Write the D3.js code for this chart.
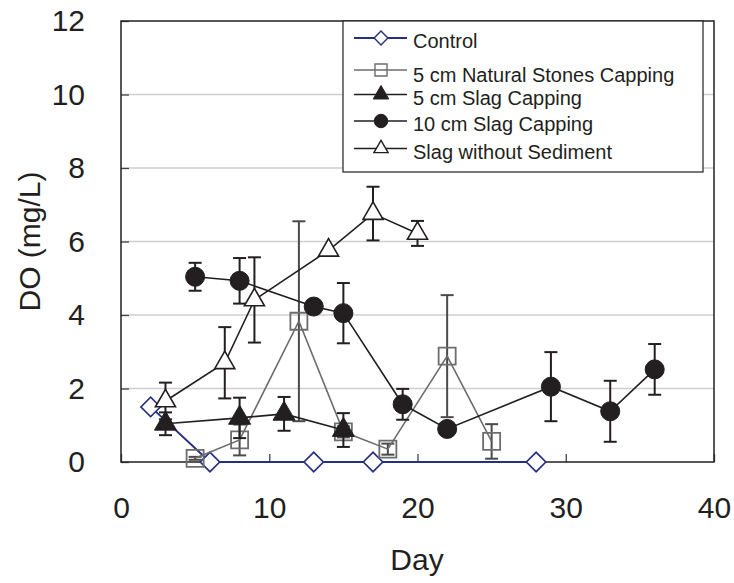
<!DOCTYPE html>
<html>
<head>
<meta charset="utf-8">
<script src="https://cdn.jsdelivr.net/npm/d3@7/dist/d3.min.js"></script>
<style>
  html, body { margin: 0; padding: 0; background: #fff; }
  svg { display: block; font-family: "Liberation Sans", Arial, sans-serif; }
</style>
</head>
<body>
<svg id="chart" width="734" height="583"></svg>
<script>
// Dissolved oxygen over time for each capping treatment
const controlDays = [2, 6, 13, 17, 28];
const controlDO   = [1.5, 0, 0, 0, 0];

const stoneDays = [5, 8, 12, 15, 18, 22, 25];
const stoneDO   = [0.1, 0.6, 3.83, 0.82, 0.35, 2.88, 0.56];
const stoneErr  = [0.04, 0.42, 2.72, 0.15, 0.15, 1.66, 0.47];

const slag5Days = [3, 8, 11, 15];
const slag5DO   = [1.04, 1.2, 1.31, 0.87];
const slag5Err  = [0.31, 0.55, 0.46, 0.46];

const slag10Days = [5, 8, 13, 15, 19, 22, 29, 33, 36];
const slag10DO   = [5.04, 4.93, 4.23, 4.05, 1.57, 0.9, 2.05, 1.38, 2.52];
const slag10Err  = [0.38, 0.62, 0, 0.82, 0.42, 0, 0.94, 0.83, 0.69];

const noSedDays = [3, 7, 9, 14, 17, 20];
const noSedDO   = [1.66, 2.7, 4.41, 5.76, 6.76, 6.22];
const noSedErr  = [0.5, 0.97, 1.16, 0, 0.73, 0.34];

const xTicks = [0, 10, 20, 30, 40];
const yTicks = [0, 2, 4, 6, 8, 10, 12];

const legendLabels = [
  "Control",
  "5 cm Natural Stones Capping",
  "5 cm Slag Capping",
  "10 cm Slag Capping",
  "Slag without Sediment"
];

const svg = d3.select("#chart");
const plot = { left: 121, right: 714, top: 21, bottom: 462 };

const x = d3.scaleLinear().domain([0, 40]).range([plot.left, plot.right]);
const y = d3.scaleLinear().domain([0, 12]).range([plot.bottom, plot.top]);

// horizontal grid
svg.append("g")
  .selectAll("line")
  .data(yTicks.filter(t => t > 0 && t < 12))
  .join("line")
  .attr("x1", plot.left).attr("x2", plot.right)
  .attr("y1", d => y(d)).attr("y2", d => y(d))
  .attr("stroke", "#cfcfcf").attr("stroke-width", 1.3);

// axes
const xAxis = svg.append("g")
  .attr("transform", `translate(0,${plot.bottom})`)
  .call(d3.axisBottom(x).tickValues(xTicks).tickSizeInner(-8).tickSizeOuter(0).tickPadding(35));
const yAxis = svg.append("g")
  .attr("transform", `translate(${plot.left},0)`)
  .call(d3.axisLeft(y).tickValues(yTicks).tickSizeInner(-8).tickSizeOuter(0).tickPadding(36));
[xAxis, yAxis].forEach(g => {
  g.select(".domain").remove();
  g.selectAll(".tick line").attr("stroke", "#444").attr("stroke-width", 1.3);
  g.selectAll(".tick text")
    .attr("fill", "#231f20")
    .style("font-size", "30px")
    .style("font-family", "'Liberation Sans', Arial, sans-serif");
});

// plot frame
svg.append("rect")
  .attr("x", plot.left).attr("y", plot.top)
  .attr("width", plot.right - plot.left).attr("height", plot.bottom - plot.top)
  .attr("fill", "none").attr("stroke", "#231f20").attr("stroke-width", 1.5);

// axis titles
svg.append("text")
  .attr("x", (plot.left + plot.right) / 2 - 0.5).attr("y", 570)
  .attr("text-anchor", "middle")
  .attr("fill", "#231f20")
  .style("font-size", "30px")
  .text("Day");
svg.append("text")
  .attr("transform", `translate(40,${(plot.top + plot.bottom) / 2}) rotate(-90)`)
  .attr("text-anchor", "middle")
  .attr("fill", "#231f20")
  .style("font-size", "30px")
  .text("DO (mg/L)");

const series = [
  { days: controlDays, vals: controlDO, errs: null, color: "#27307f", lw: 2,
    symbol: d3.symbolSquare, size: 190, rot: 45, fill: "#fff", stroke: "#27307f", sw: 1.6, errColor: "#27307f" },
  { days: stoneDays, vals: stoneDO, errs: stoneErr, color: "#6d6d6d", lw: 1.6,
    symbol: d3.symbolSquare, size: 290, rot: 0, fill: "none", stroke: "#6d6d6d", sw: 1.8, errColor: "#4a4a4a" },
  { days: slag5Days, vals: slag5DO, errs: slag5Err, color: "#231f20", lw: 1.6,
    symbol: d3.symbolTriangle, size: 210, rot: 0, fill: "#231f20", stroke: "#231f20", sw: 1, errColor: "#231f20" },
  { days: slag10Days, vals: slag10DO, errs: slag10Err, color: "#231f20", lw: 1.6,
    symbol: d3.symbolCircle, size: 285, rot: 0, fill: "#231f20", stroke: "#231f20", sw: 1, errColor: "#231f20" },
  { days: noSedDays, vals: noSedDO, errs: noSedErr, color: "#231f20", lw: 1.6,
    symbol: d3.symbolTriangle, size: 175, rot: 0, fill: "#fff", stroke: "#231f20", sw: 1.6, errColor: "#231f20" }
];

const line = d3.line().x(d => x(d[0])).y(d => y(d[1]));

series.forEach(s => {
  const pts = s.days.map((d, i) => [d, s.vals[i], s.errs ? s.errs[i] : 0]);
  const g = svg.append("g");
  // error bars
  const eb = g.selectAll("g.err").data(pts.filter(p => p[2] > 0)).join("g");
  eb.append("line")
    .attr("x1", d => x(d[0])).attr("x2", d => x(d[0]))
    .attr("y1", d => y(d[1] + d[2])).attr("y2", d => y(Math.max(0, d[1] - d[2])))
    .attr("stroke", s.errColor).attr("stroke-width", 2);
  [1, -1].forEach(sign => {
    eb.append("line")
      .attr("x1", d => x(d[0]) - 6.5).attr("x2", d => x(d[0]) + 6.5)
      .attr("y1", d => y(d[1] + sign * d[2])).attr("y2", d => y(d[1] + sign * d[2]))
      .attr("stroke", s.errColor).attr("stroke-width", 2);
  });
  // connecting line
  g.append("path").datum(pts)
    .attr("d", line)
    .attr("fill", "none").attr("stroke", s.color).attr("stroke-width", s.lw);
  // markers
  g.selectAll("path.m").data(pts).join("path")
    .attr("class", "m")
    .attr("transform", d => `translate(${x(d[0])},${y(d[1])}) rotate(${s.rot})`)
    .attr("d", d3.symbol().type(s.symbol).size(s.size))
    .attr("fill", s.fill).attr("stroke", s.stroke).attr("stroke-width", s.sw);
});

// legend
const lg = svg.append("g");
lg.append("rect")
  .attr("x", 343).attr("y", 21).attr("width", 360).attr("height", 151)
  .attr("fill", "#fff").attr("stroke", "#231f20").attr("stroke-width", 1.2);
const sampleY = [38, 70, 94.5, 121, 148.5];
const textY = [48, 82, 104.5, 131, 159];
const items = lg.selectAll("g.item").data(legendLabels).join("g");
items.append("line")
  .attr("x1", 354).attr("x2", 407)
  .attr("y1", (d, i) => sampleY[i]).attr("y2", (d, i) => sampleY[i])
  .attr("stroke", (d, i) => series[i].color).attr("stroke-width", (d, i) => series[i].lw);
items.append("path")
  .attr("transform", (d, i) => `translate(381,${sampleY[i]}) rotate(${series[i].rot})`)
  .attr("d", (d, i) => d3.symbol().type(series[i].symbol).size(series[i].size * 0.5)())
  .attr("fill", (d, i) => series[i].fill).attr("stroke", (d, i) => series[i].stroke)
  .attr("stroke-width", (d, i) => Math.min(series[i].sw, 1.4));
const texts = items.append("text")
  .attr("x", 413).attr("y", (d, i) => textY[i])
  .attr("fill", "#231f20")
  .style("font-size", "20px")
  .text(d => d);
// squeeze legend text so the longest entry spans the box
const natural = texts.nodes().map(n => n.getComputedTextLength());
const k = Math.min(1, 290 / d3.max(natural));
texts.each(function (d, i) {
  d3.select(this).attr("textLength", natural[i] * k).attr("lengthAdjust", "spacingAndGlyphs");
});
</script>
</body>
</html>
